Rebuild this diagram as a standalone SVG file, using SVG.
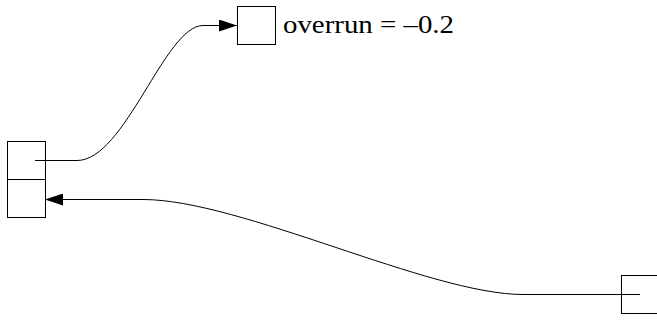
<svg xmlns="http://www.w3.org/2000/svg" width="657" height="320" viewBox="0 0 657 320">
<style>
.box{fill:#fff;stroke:#000;stroke-width:1}
.edge{fill:none;stroke:#000;stroke-width:1}
.lbl{font-family:"Liberation Serif","DejaVu Serif",serif;font-size:25px;fill:#000}
</style>
<defs>
<marker id="ah" viewBox="0 0 18 12" refX="18" refY="6" markerWidth="18" markerHeight="12" markerUnits="userSpaceOnUse" orient="auto">
<path d="M0,0 L18,6 L0,12 Z" fill="#000"/>
</marker>
</defs>
<g id="connectors">
<path class="edge" d="M35,160.5 L77,160.5 C125,160.5 165,25.5 203,25.5 L237,25.5" marker-end="url(#ah)"/>
<path class="edge" d="M640,294.5 L523,294.5 C430,294.5 240,199.5 143,199.5 L45,199.5" marker-end="url(#ah)"/>
</g>
<g id="node-stack">
<rect class="box" x="7.5" y="141.5" width="38" height="38"/>
<rect class="box" x="7.5" y="179.5" width="38" height="38"/>
<line class="edge" x1="35" y1="160.5" x2="45" y2="160.5"/>
</g>
<g id="node-top">
<rect class="box" x="237.5" y="6.5" width="38" height="38"/>
<text class="lbl" x="283" y="33" textLength="171" lengthAdjust="spacingAndGlyphs">overrun = –0.2</text>
</g>
<g id="node-right">
<rect class="box" x="621.5" y="275.5" width="38" height="38"/>
<line class="edge" x1="621" y1="294.5" x2="640" y2="294.5"/>
</g>
</svg>
